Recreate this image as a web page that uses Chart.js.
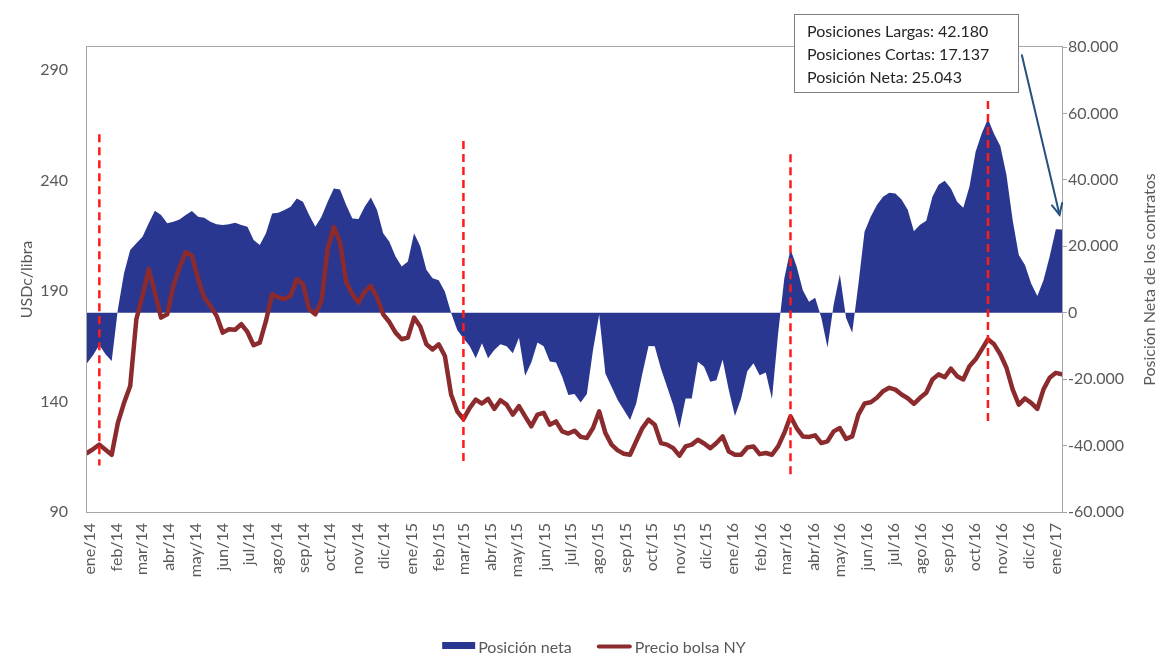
<!DOCTYPE html>
<html><head><meta charset="utf-8">
<script src="https://cdn.jsdelivr.net/npm/chart.js@4.4.0/dist/chart.umd.min.js"></script>
<style>html,body{margin:0;padding:0;background:#fff;}canvas{display:block;}</style>
</head><body>
<canvas id="c" width="1160" height="657"></canvas>
<script>
// ---- data ----
const monthLabels = ['ene/14','feb/14','mar/14','abr/14','may/14','jun/14','jul/14','ago/14','sep/14','oct/14','nov/14','dic/14',
  'ene/15','feb/15','mar/15','abr/15','may/15','jun/15','jul/15','ago/15','sep/15','oct/15','nov/15','dic/15',
  'ene/16','feb/16','mar/16','abr/16','may/16','jun/16','jul/16','ago/16','sep/16','oct/16','nov/16','dic/16','ene/17'];
const firstWeekDate = '2013-12-29';   // weekly series start
const netPosition = [
  -15200,-12700,-9700,-12500,-14500,1000,11900,18900,20900,22900,
  26900,30700,29400,26900,27400,28100,29400,30600,28900,28600,
  27400,26600,26400,26600,27100,26400,25900,21900,20400,23900,
  29900,30100,30900,31900,34400,33400,29400,25900,28900,33400,
  37400,37100,32400,28400,28200,31900,34700,30900,23900,21400,
  16900,13900,15400,23900,20000,12900,10400,9800,6300,0,
  -5200,-7700,-10000,-13700,-9200,-13700,-11200,-9500,-10100,-12200,
  -7500,-19000,-15000,-9000,-10100,-14700,-15000,-19300,-24800,-24500,
  -27000,-24500,-11200,-500,-18300,-22300,-26300,-29300,-32300,-27300,
  -18300,-10000,-10100,-16800,-22300,-27800,-34800,-25800,-25800,-14800,
  -16300,-20800,-20300,-14100,-23300,-31100,-25800,-17600,-15200,-18800,
  -18000,-26000,-6200,10400,19100,13900,6800,3300,4500,-1500,
  -10500,2500,11500,-1500,-6000,8500,24400,28900,32400,34900,
  36100,35900,34100,31000,24500,26500,27700,34900,38500,39700,
  37400,33400,31600,37900,48500,54000,58300,53800,50200,41500,
  27900,17400,14400,8800,5000,9800,16900,25100,25043];
const priceNY = [
  116.7,118.5,120.5,118.2,115.9,130.3,139.4,147,177.3,187.9,
  200,189.4,178,179.5,192.4,200.8,207.6,206,195.5,187.1,
  183.3,178.8,171.2,172.7,172.5,175,171.5,165.5,166.7,176.5,
  188.6,187.1,186.4,187.9,195.5,193.2,181.8,179.5,185.6,209.1,
  219,212.1,194,188.6,184.8,189.8,192.4,187.1,179.5,176,
  171.2,168.2,169,178,174,165.9,163.6,165.9,160.6,143.2,
  135.6,132,137,140.9,139.1,141.2,136.7,140.6,138.6,134.1,
  137.9,133.3,128.8,134.1,134.9,129.5,131,126.5,125.5,126.8,
  124,123.5,128,135.6,125.8,120.5,117.9,116.4,115.9,122,
  128,131.8,129.5,121.2,120.5,118.9,115.5,119.7,120.5,122.7,
  121,118.9,121.2,124.2,117.4,115.9,115.9,119.2,119.7,116.2,
  116.7,115.9,119.7,125.8,133.3,128,124.2,124,124.7,121.2,
  122,126.5,128,123.1,124.2,134.1,139.1,139.7,141.7,144.7,
  146.2,145.4,143.2,141.5,139,141.7,144,150,152.3,151,
  154.9,151.5,150,156,159.1,163.6,168.2,165.9,161.4,155.3,
  145.5,138.6,141.4,139.4,136.7,145.5,150.8,153,152.3];
const leftTicks = [90, 140, 190, 240, 290];
const rightTicks = [-60000, -40000, -20000, 0, 20000, 40000, 60000, 80000];
// dashed event markers (week index, top/bottom in USDc/libra)
const eventWeeks = [2, 61, 114, 146];
const eventTop = [261, 258, 252, 276];
const eventBottom = [111, 111, 106, 130];
const calloutLines = ['Posiciones Largas: 42.180', 'Posiciones Cortas: 17.137', 'Posición Neta: 25.043'];
const arrowTail = {week: 151.5, net: 77500};
const arrowTip = {week: 157.6, net: 29500};

// ---- helpers ----
const BLUE = '#2a3791', RED = '#8c2b2d', GREY = '#595959', FRAME = '#a6a6a6';
const DAY = 86400000;
const t0 = Date.parse(firstWeekDate + 'T00:00:00Z');
const monthPositions = monthLabels.map((_, k) => (Date.UTC(2014, k, 1) - t0) / (7 * DAY));
function fmtThousands(v) {
  const s = Math.abs(v).toString().replace(/\B(?=(\d{3})+(?!\d))/g, '.');
  return (v < 0 ? '-' : '') + s;
}
Chart.defaults.font.family = 'Lato, "Open Sans", sans-serif';
Chart.defaults.font.size = 16;
Chart.defaults.color = GREY;

const notesPlugin = {
  id: 'notes',
  afterDatasetsDraw(chart) {
    const {ctx, chartArea: a, scales} = chart;
    ctx.save();
    ctx.strokeStyle = '#ff1a1a'; ctx.lineWidth = 2.5; ctx.setLineDash([8, 5]);
    eventWeeks.forEach((w, i) => {
      const x = scales.x.getPixelForValue(w);
      ctx.beginPath();
      ctx.moveTo(x, scales.yL.getPixelForValue(eventTop[i]));
      ctx.lineTo(x, scales.yL.getPixelForValue(eventBottom[i]));
      ctx.stroke();
    });
    ctx.restore();
    ctx.save();
    ctx.strokeStyle = FRAME; ctx.lineWidth = 1;
    ctx.strokeRect(a.left - 0.5, a.top - 0.5, a.right - a.left + 1, a.bottom - a.top + 1);
    ctx.restore();
  },
  afterDraw(chart) {
    const {ctx, chartArea: a, scales} = chart;
    // right axis title (reads bottom-to-top)
    ctx.save();
    ctx.font = '16px Lato, "Open Sans", sans-serif';
    ctx.fillStyle = GREY; ctx.textAlign = 'center'; ctx.textBaseline = 'middle';
    ctx.translate(1150, (a.top + a.bottom) / 2);
    ctx.rotate(-Math.PI / 2);
    ctx.fillText('Posición Neta de los contratos', 0, 0);
    ctx.restore();
    // callout box
    ctx.save();
    ctx.fillStyle = '#fff'; ctx.strokeStyle = '#7f7f7f'; ctx.lineWidth = 1;
    ctx.fillRect(794, 14, 224, 78);
    ctx.strokeRect(794.5, 14.5, 224, 78);
    ctx.fillStyle = '#262626'; ctx.font = '16px Lato, "Open Sans", sans-serif';
    ctx.textAlign = 'left'; ctx.textBaseline = 'middle';
    calloutLines.forEach((t, i) => ctx.fillText(t, 807, 32 + i * 23));
    // arrow
    const x1 = scales.x.getPixelForValue(arrowTail.week), y1 = scales.yR.getPixelForValue(arrowTail.net);
    const x2 = scales.x.getPixelForValue(arrowTip.week), y2 = scales.yR.getPixelForValue(arrowTip.net);
    ctx.strokeStyle = '#25507f'; ctx.lineWidth = 2; ctx.lineCap = 'round';
    ctx.beginPath(); ctx.moveTo(x1, y1); ctx.lineTo(x2, y2); ctx.stroke();
    const ang = Math.atan2(y2 - y1, x2 - x1), L = 12, spread = 0.45;
    ctx.beginPath();
    ctx.moveTo(x2 - L * Math.cos(ang - spread), y2 - L * Math.sin(ang - spread));
    ctx.lineTo(x2, y2);
    ctx.lineTo(x2 - L * Math.cos(ang + spread), y2 - L * Math.sin(ang + spread));
    ctx.stroke();
    ctx.restore();
    // legend
    ctx.save();
    ctx.font = '16px Lato, "Open Sans", sans-serif';
    ctx.textBaseline = 'middle'; ctx.textAlign = 'left'; ctx.fillStyle = GREY;
    const ds = chart.data.datasets;
    const w1 = ctx.measureText(ds[0].label).width, w2 = ctx.measureText(ds[1].label).width;
    const total = 33 + 3 + w1 + 25 + 35 + 3 + w2;
    let x = 594 - total / 2; const y = 648;
    ctx.fillStyle = ds[0].backgroundColor; ctx.fillRect(x, y - 6, 33, 7);
    x += 36; ctx.fillStyle = GREY; ctx.fillText(ds[0].label, x, y); x += w1 + 25;
    ctx.strokeStyle = ds[1].borderColor; ctx.lineWidth = 4; ctx.lineCap = 'round';
    ctx.beginPath(); ctx.moveTo(x + 2, y - 1.5); ctx.lineTo(x + 33, y - 1.5); ctx.stroke();
    x += 38; ctx.fillText(ds[1].label, x, y);
    ctx.restore();
  }
};

new Chart(document.getElementById('c'), {
  type: 'line',
  data: {
    datasets: [
      { label: 'Posición neta', data: netPosition.map((v, i) => ({x: i, y: v})), yAxisID: 'yR',
        backgroundColor: BLUE, borderColor: BLUE, borderWidth: 0, fill: 'origin', pointRadius: 0, tension: 0, order: 2 },
      { label: 'Precio bolsa NY', data: priceNY.map((v, i) => ({x: i, y: v})), yAxisID: 'yL',
        borderColor: RED, backgroundColor: RED, borderWidth: 4.5, fill: false, pointRadius: 0, tension: 0, order: 1,
        borderJoinStyle: 'round', borderCapStyle: 'round' }
    ]
  },
  options: {
    responsive: false, animation: false, devicePixelRatio: 1,
    layout: { padding: { top: 47, left: 0, right: 0, bottom: 0 } },
    plugins: { legend: { display: false }, tooltip: { enabled: false } },
    scales: {
      x: {
        type: 'linear', min: 0, max: netPosition.length - 1,
        grid: { display: false, drawTicks: false }, border: { display: false },
        afterBuildTicks: s => { s.ticks = monthPositions.map(v => ({value: v})); },
        afterFit: s => { s.height = 145; },
        ticks: { autoSkip: false, minRotation: 90, maxRotation: 90, padding: 11, color: GREY,
          callback: (v, i) => monthLabels[i] }
      },
      yL: {
        type: 'linear', position: 'left', min: 90, max: 300.5,
        grid: { display: false, drawTicks: false }, border: { display: false },
        afterBuildTicks: s => { s.ticks = leftTicks.map(v => ({value: v})); },
        afterFit: s => { s.width = 87; },
        ticks: { padding: 19, color: GREY },
        title: { display: true, text: 'USDc/libra', color: GREY, font: { size: 16 }, padding: { top: 17, bottom: 0 } }
      },
      yR: {
        type: 'linear', position: 'right', min: -60000, max: 80000,
        grid: { display: true, drawOnChartArea: false, drawTicks: true, tickLength: 5, color: FRAME },
        border: { display: false },
        afterBuildTicks: s => { s.ticks = rightTicks.map(v => ({value: v})); },
        afterFit: s => { s.width = 98; },
        ticks: { padding: 1, color: GREY, callback: v => fmtThousands(v) }
      }
    }
  },
  plugins: [notesPlugin]
});
</script>
</body></html>
